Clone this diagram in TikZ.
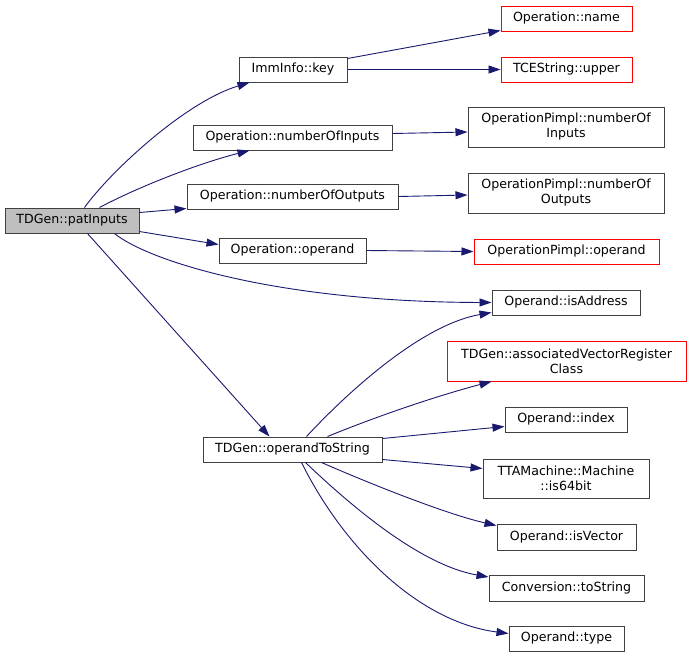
\documentclass[tikz,border=0pt]{standalone}
\usepackage{fontspec}
\setmainfont{DejaVu Sans}
\usetikzlibrary{arrows.meta,calc}
\definecolor{edgec}{HTML}{191970}
\definecolor{boxc}{HTML}{404040}
\definecolor{redc}{HTML}{FF0000}
\definecolor{greyf}{HTML}{BFBFBF}
\begin{document}
\begin{tikzpicture}[x=1pt,y=-1pt,
  fn/.style={draw=boxc,line width=1pt,fill=white,inner sep=0pt,align=center,
    font=\fontsize{12.6}{15}\selectfont,text=black},
  redfn/.style={fn,draw=redc},
  rootfn/.style={fn,fill=greyf},
  call/.style={draw=edgec,line width=0.9pt,-{Triangle[length=12pt,width=8pt]},fill=none}]
\useasboundingbox (0,0) rectangle (692,657);
\fill[white] (0,0) rectangle (692,657);
% nodes
\node[rootfn,minimum width=134pt,minimum height=25pt] (p) at (72,220.5) {TDGen::patInputs};
\node[fn,minimum width=108pt,minimum height=25pt] (key) at (293,69.5) {ImmInfo::key};
\node[redfn,minimum width=131pt,minimum height=25pt] (name) at (566.5,18.5) {Operation::name};
\node[redfn,minimum width=131pt,minimum height=25pt] (upper) at (566.5,69.5) {TCEString::upper};
\node[fn,minimum width=199pt,minimum height=25pt] (ni) at (292.5,137.5) {Operation::numberOfInputs};
\node[fn,minimum width=196pt,minimum height=40pt] (nip) at (566,127) {OperationPimpl::numberOf\\Inputs};
\node[fn,minimum width=211pt,minimum height=25pt] (no) at (292.5,196.5) {Operation::numberOfOutputs};
\node[fn,minimum width=196pt,minimum height=40pt] (nop) at (566,193) {OperationPimpl::numberOf\\Outputs};
\node[fn,minimum width=147pt,minimum height=25pt] (op) at (292.5,250.5) {Operation::operand};
\node[redfn,minimum width=185pt,minimum height=25pt] (opp) at (566.5,251.5) {OperationPimpl::operand};
\node[fn,minimum width=148pt,minimum height=25pt] (isaddr) at (566,302.5) {Operand::isAddress};
\node[redfn,draw=redc,minimum width=239pt,minimum height=40pt] (assoc) at (566.5,361) {TDGen::associatedVectorRegister\\Class};
\node[fn,minimum width=122pt,minimum height=25pt] (index) at (566,419.5) {Operand::index};
\node[fn,minimum width=179pt,minimum height=25pt] (ots) at (292.5,449.5) {TDGen::operandToString};
\node[fn,minimum width=166pt,minimum height=39pt] (is64) at (566,478.5) {TTAMachine::Machine\\::is64bit};
\node[fn,minimum width=139pt,minimum height=26pt] (isv) at (566.5,537) {Operand::isVector};
\node[fn,minimum width=155pt,minimum height=26pt] (cts) at (566.5,588) {Conversion::toString};
\node[fn,minimum width=115pt,minimum height=25pt] (type) at (566.5,638.5) {Operand::type};
% edges from patInputs
\draw[call] ($(p.north west)+(80,0)$) .. controls (110,172) and (185,102) .. ($(key.south west)+(11,0)$);
\draw[call] ($(p.north west)+(95,0)$) .. controls (140,186) and (200,163) .. ($(ni.south west)+(57,0)$);
\draw[call] ($(p.north east)+(0,5)$) -- ($(no.south west)+(0,-1)$);
\draw[call] ($(p.south east)+(0,-2)$) -- ($(op.west)+(0,-6)$);
\draw[call] ($(p.south west)+(110,0)$) .. controls (150,262) and (280,302) .. (isaddr.west);
\draw[call] ($(p.south west)+(83,0)$) -- ($(ots.north west)+(67,0)$);
% edges from key
\draw[call] ($(key.north east)+(0,2)$) -- ($(name.south west)+(0,-1)$);
\draw[call] (key.east) -- (upper.west);
% numberOf
\draw[call] ($(ni.east)+(0,-4)$) -- ($(nip.west)+(0,5)$);
\draw[call] (no.east) -- ($(nop.west)+(0,2)$);
\draw[call] (op.east) -- (opp.west);
% from operandToString
\draw[call] ($(ots.north west)+(104,0)$) .. controls (345,395) and (420,325) .. ($(isaddr.south west)+(0,-3)$);
\draw[call] ($(ots.north west)+(125,0)$) .. controls (380,415) and (440,395) .. ($(assoc.south west)+(45,0)$);
\draw[call] ($(ots.north east)+(0,2)$) -- ($(index.west)+(0,7)$);
\draw[call] ($(ots.south east)+(0,-3)$) -- ($(is64.north west)+(0,10)$);
\draw[call] ($(ots.south west)+(119,0)$) .. controls (380,488) and (450,515) .. ($(isv.north west)+(0,2)$);
\draw[call] ($(ots.south west)+(103,0)$) .. controls (350,505) and (420,565) .. ($(cts.west)+(0,-11)$);
\draw[call] ($(ots.south west)+(99,0)$) .. controls (345,550) and (420,622) .. ($(type.west)+(0,-5)$);
\end{tikzpicture}
\end{document}
